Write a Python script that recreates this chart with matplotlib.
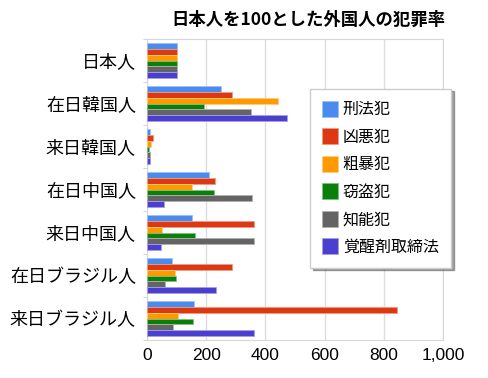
import matplotlib.pyplot as plt
import numpy as np
from matplotlib.ticker import FuncFormatter

plt.rcParams["font.family"] = ["Noto Sans CJK JP", "DejaVu Sans"]

categories = ["日本人", "在日韓国人", "来日韓国人", "在日中国人",
              "来日中国人", "在日ブラジル人", "来日ブラジル人"]
series = ["刑法犯", "凶悪犯", "粗暴犯", "窃盗犯", "知能犯", "覚醒剤取締法"]
keihou = [100, 251, 11, 209, 152, 86, 160]
kyouaku = [100, 287, 19, 230, 362, 287, 845]
soubou = [100, 443, 14, 152, 49, 94, 104]
settou = [100, 194, 8, 225, 163, 98, 157]
chinou = [100, 353, 11, 354, 362, 60, 88]
kakusei = [100, 472, 11, 56, 47, 233, 360]
values = [keihou, kyouaku, soubou, settou, chinou, kakusei]
xticks = [0, 200, 400, 600, 800, 1000]

colors = ["#4a8bf0", "#dc3912", "#ff9900", "#0a7f0a", "#646464", "#4a3fcf"]
edges = ["#9cc0f8", "#ee9a85", "#ffcc80", "#80c080", "#b0b0b0", "#a49fe8"]

fig = plt.figure(figsize=(4.89, 3.78), dpi=100)
ax = fig.add_axes([147 / 489, 1 - 340 / 378, 296 / 489, 301 / 378])

y = np.arange(len(categories))
h = 0.132
for j, (name, vals) in enumerate(zip(series, values)):
    ax.barh(y + (j - 2.5) * h, vals, height=h, color=colors[j],
            edgecolor=edges[j], linewidth=0.6, label=name, zorder=3)

ax.set_xlim(0, 1000)
ax.set_ylim(len(categories) - 0.5, -0.5)
ax.set_xticks(xticks)
ax.xaxis.set_major_formatter(FuncFormatter(lambda v, p: f"{int(v):,}"))
ax.set_yticks(y)
ax.set_yticklabels(categories, fontsize=13)
ax.set_yticks(np.arange(len(categories) + 1) - 0.5, minor=True)
ax.tick_params(axis="y", which="major", length=0, pad=8)
ax.tick_params(axis="y", which="minor", length=3, color="#cccccc")
ax.tick_params(axis="x", length=0, pad=6)
for lab in ax.get_xticklabels():
    lab.set_fontfamily(["Liberation Sans", "DejaVu Sans"])
    lab.set_fontsize(12.5)
ax.grid(axis="x", color="#dddddd", linewidth=1, zorder=0)
for s in ax.spines.values():
    s.set_color("#d8d8d8")

leg = ax.legend(loc="upper left", bbox_to_anchor=(0.551, 0.835), fontsize=11.5,
                frameon=True, fancybox=False, shadow=True, handlelength=1.0,
                handleheight=1.2, labelspacing=0.62, borderpad=0.75,
                handletextpad=0.3, borderaxespad=0)
leg.get_frame().set_edgecolor("#cccccc")
leg.get_frame().set_linewidth(1)

fig.text(308 / 489, 1 - 20 / 378, "日本人を100とした外国人の犯罪率",
         ha="center", va="center", fontsize=12.5, fontweight="bold")

fig.savefig("out.png", dpi=100)
